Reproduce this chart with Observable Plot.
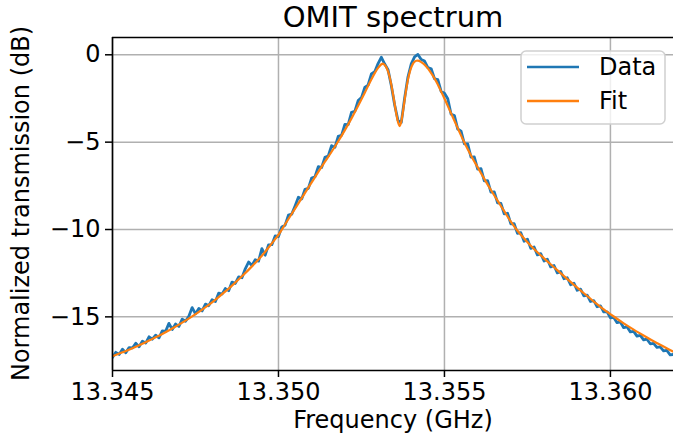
<!DOCTYPE html>
<html><head><meta charset="utf-8">
<script src="https://cdn.jsdelivr.net/npm/d3@7"></script>
<script src="https://cdn.jsdelivr.net/npm/@observablehq/plot@0.6"></script>
<style>
body{margin:0;background:#fff;font-family:"DejaVu Sans",sans-serif;}
#wrap{position:relative;width:673px;height:441px;overflow:hidden;}
#legend{position:absolute;left:520px;top:50px;}
</style></head>
<body><div id="wrap"></div>
<script>
const titleText = "OMIT spectrum";
const xLabel = "Frequency (GHz)";
const yLabel = "Normalized transmission (dB)";
const seriesNames = ["Data", "Fit"];
const seriesColors = ["#1f77b4", "#ff7f0e"];
const xDomain = [13.345, 13.3619];
const yDomain = [-18.07, 0.99];
const xTicks = [13.345, 13.350, 13.355, 13.360];
const yTicks = [0, -5, -10, -15];

// measured sweep: uniform frequency grid
const sweepStart = 13.345;
const sweepStep = 0.0001;
const dataDb = [
-17.33,-17.03,-17.15,-16.85,-17.05,-16.76,-16.78,-16.51,-16.71,-16.39,
-16.50,-16.14,-16.28,-16.05,-16.20,-15.80,-15.83,-15.37,-15.72,-15.41,
-15.55,-15.13,-15.25,-14.97,-14.47,-14.83,-14.52,-14.66,-14.27,-14.36,
-14.02,-14.12,-13.64,-13.70,-13.38,-13.50,-13.01,-13.09,-12.71,-12.76,
-12.25,-11.86,-12.06,-11.73,-11.81,-11.10,-11.47,-10.88,-10.87,-10.37,
-10.40,-9.85,-9.75,-9.18,-9.12,-8.65,-8.15,-8.25,-7.70,-7.65,
-7.05,-6.98,-6.40,-6.45,-5.87,-5.79,-5.20,-5.30,-4.67,-4.61,
-3.99,-4.00,-3.29,-3.24,-2.62,-2.45,-1.87,-1.73,-1.10,-0.97,
-0.50,-0.14,-0.53,-0.85,-1.77,-2.87,-3.75,-3.87,-2.48,-1.27,
-0.52,-0.12,0.02,-0.27,-0.36,-0.73,-0.80,-1.37,-1.42,-2.10,
-2.20,-2.52,-3.40,-3.48,-4.25,-4.37,-5.10,-5.10,-5.86,-5.85,
-6.54,-6.52,-7.22,-7.20,-7.86,-7.85,-8.47,-8.50,-9.10,-9.07,
-9.67,-9.67,-10.22,-10.18,-10.67,-10.55,-11.08,-11.00,-11.45,-11.38,
-11.80,-11.70,-12.14,-12.06,-12.48,-12.40,-12.82,-12.76,-13.16,-13.07,
-13.48,-13.41,-13.80,-13.76,-14.12,-14.07,-14.42,-14.37,-14.72,-14.71,
-15.05,-15.03,-15.33,-15.29,-15.62,-15.57,-15.86,-15.83,-16.10,-16.06,
-16.32,-16.28,-16.54,-16.52,-16.75,-16.72,-16.95,-16.92,-17.18,-17.15
];

const fitFreq = [
13.3450,13.3453,13.3456,13.3459,13.3462,13.3465,13.3468,13.3471,13.3474,13.3477,
13.3480,13.3483,13.3486,13.3489,13.3492,13.3495,13.3498,13.3500,13.3502,13.3504,
13.3506,13.3508,13.3510,13.3512,13.3514,13.3516,13.3518,13.3520,13.3522,13.3524,
13.3526,13.3528,13.3529,13.3530,13.3531,13.35315,13.3532,13.35325,13.3533,13.35335,
13.3534,13.35345,13.3535,13.35355,13.3536,13.35365,13.3537,13.35375,13.3538,13.35385,
13.3539,13.35395,13.3540,13.35405,13.3541,13.35415,13.3542,13.3543,13.3544,13.3545,
13.3546,13.3547,13.3548,13.3549,13.3550,13.3552,13.3554,13.3556,13.3558,13.3560,
13.3562,13.3564,13.3566,13.3568,13.3570,13.3572,13.3574,13.3576,13.3578,13.3580,
13.3583,13.3586,13.3589,13.3592,13.3595,13.3598,13.3601,13.3604,13.3607,13.3610,
13.3613,13.3616,13.3619
];
const fitDb = [
-17.25,-17.03,-16.80,-16.54,-16.26,-15.98,-15.67,-15.33,-14.97,-14.58,
-14.17,-13.70,-13.21,-12.68,-12.11,-11.50,-10.79,-10.30,-9.70,-9.10,
-8.50,-7.90,-7.30,-6.70,-6.12,-5.55,-4.95,-4.31,-3.64,-2.92,
-2.17,-1.40,-1.05,-0.75,-0.54,-0.50,-0.58,-0.72,-0.95,-1.28,
-1.72,-2.25,-2.82,-3.38,-3.85,-4.08,-3.82,-3.25,-2.58,-1.95,
-1.42,-1.02,-0.72,-0.52,-0.40,-0.34,-0.33,-0.42,-0.56,-0.78,
-1.05,-1.35,-1.70,-2.10,-2.50,-3.35,-4.20,-5.02,-5.76,-6.44,
-7.10,-7.74,-8.35,-8.95,-9.55,-10.07,-10.52,-10.93,-11.30,-11.65,
-12.16,-12.67,-13.17,-13.65,-14.12,-14.57,-14.98,-15.37,-15.73,-16.07,
-16.40,-16.70,-17.00
];

const measured = dataDb.map((v, i) => ({f: +(sweepStart + i * sweepStep).toFixed(5), db: v}));
const fitted = fitFreq.map((f, i) => ({f, db: fitDb[i]}));

const chart = Plot.plot({
  width: 673, height: 441,
  marginLeft: 112, marginRight: 0, marginTop: 37, marginBottom: 71,
  style: {fontFamily: "DejaVu Sans", fontSize: "24px", color: "#000", background: "#fff", overflow: "visible"},
  x: {domain: xDomain, label: null},
  y: {domain: yDomain, label: null},
  marks: [
    Plot.gridX(xTicks, {stroke: "#b0b0b0", strokeOpacity: 1, strokeWidth: 1.5}),
    Plot.gridY(yTicks, {stroke: "#b0b0b0", strokeOpacity: 1, strokeWidth: 1.5}),
    Plot.line(measured, {x: "f", y: "db", stroke: seriesColors[0], strokeWidth: 2.8, clip: true}),
    Plot.line(fitted, {x: "f", y: "db", stroke: seriesColors[1], strokeWidth: 2.2, curve: "monotone-x", clip: true}),
    Plot.ruleX([xDomain[0]], {stroke: "#000", strokeWidth: 1.6}),
    Plot.ruleY(yDomain, {stroke: "#000", strokeWidth: 1.6}),
    Plot.axisX({ticks: xTicks, tickFormat: d3.format(".3f"), tickSize: 7, tickPadding: 5, strokeWidth: 1.5, label: null}),
    Plot.axisY({ticks: yTicks, tickFormat: d3.format("d"), tickSize: 7, tickPadding: 5, strokeWidth: 1.5, label: null}),
    Plot.text([titleText], {text: d => d, frameAnchor: "top", dy: -20, fontSize: 29, lineAnchor: "middle"}),
    Plot.text([xLabel], {text: d => d, frameAnchor: "bottom", dy: 50, lineAnchor: "middle"})
  ]
});
const wrap = document.getElementById("wrap");
wrap.appendChild(chart);

// rotated y-axis label, vertically centred on the plot frame
d3.select(chart).append("text")
  .attr("transform", `translate(21,${(37 + 370) / 2}) rotate(-90)`)
  .attr("text-anchor", "middle").attr("dy", "0.35em")
  .attr("font-family", "DejaVu Sans").attr("font-size", 24).attr("fill", "#000")
  .text(yLabel);

// legend (matplotlib style, upper right)
const lw = 145, lh = 74;
const leg = d3.select(wrap).append("svg").attr("id", "legend").attr("width", lw + 2).attr("height", lh + 2);
leg.append("rect").attr("x", 1).attr("y", 1).attr("width", lw - 1).attr("height", lh - 1).attr("rx", 5)
  .attr("fill", "rgba(255,255,255,0.8)").attr("stroke", "#d0d0d0").attr("stroke-width", 1.5);
seriesNames.forEach((name, i) => {
  const cy = 17 + i * 34;
  leg.append("line").attr("x1", 7).attr("x2", 59).attr("y1", cy).attr("y2", cy)
    .attr("stroke", seriesColors[i]).attr("stroke-width", 2.4);
  leg.append("text").attr("x", 79).attr("y", cy).attr("dy", "0.35em")
    .attr("font-family", "DejaVu Sans").attr("font-size", 24).attr("fill", "#000").text(name);
});
</script></body></html>
